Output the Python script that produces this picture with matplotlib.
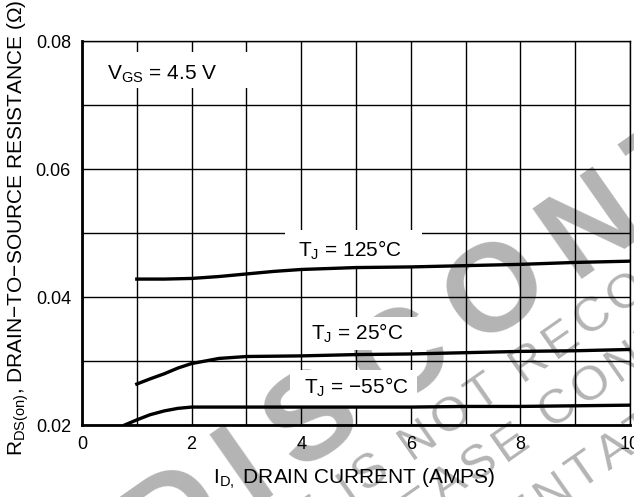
import numpy as np
import matplotlib
matplotlib.use("Agg")
import matplotlib.pyplot as plt
from matplotlib.patches import Rectangle
from matplotlib.font_manager import FontProperties
from matplotlib.textpath import TextToPath

plt.rcParams['font.family'] = ['Liberation Sans', 'DejaVu Sans']
plt.rcParams['mathtext.fontset'] = 'custom'
plt.rcParams['mathtext.rm'] = 'Liberation Sans'

# drain current (A) and on-resistance (ohm)
id_125 = [1.0, 1.5, 2.0, 2.5, 3.0, 3.5, 4.0, 5.0, 6.0, 7.0, 8.0, 9.0, 10.0]
r_125 = [0.0428, 0.0428, 0.0429, 0.0432, 0.0436, 0.0440, 0.0443, 0.0446, 0.0447, 0.0449, 0.0451, 0.0454, 0.0456]

id_25 = [1.0, 1.24, 1.5, 1.75, 2.0, 2.5, 3.0, 4.0, 5.0, 6.0, 7.0, 8.0, 9.0, 10.0]
r_25 = [0.0264, 0.0272, 0.0280, 0.0289, 0.0296, 0.0304, 0.0307, 0.0308, 0.0310, 0.0311, 0.0313, 0.0315, 0.0316, 0.0318]

id_m55 = [0.78, 1.0, 1.24, 1.5, 1.75, 2.0, 3.0, 4.0, 5.0, 6.0, 7.0, 8.0, 9.0, 10.0]
r_m55 = [0.0200, 0.0208, 0.0216, 0.0222, 0.0226, 0.0228, 0.0228, 0.0228, 0.0228, 0.0228, 0.0229, 0.0229, 0.0230, 0.0231]

x_ticks = [0, 2, 4, 6, 8, 10]
y_ticks = [0.02, 0.04, 0.06, 0.08]

W, H = 634, 497
fig = plt.figure(figsize=(W/100, H/100), dpi=100)
ax = fig.add_axes([82/W, 1-425/H, 548/W, 384/H])
ax.set_facecolor('none')

ax.set_xlim(0, 10)
ax.set_ylim(0.02, 0.08)
ax.set_xticks(x_ticks)
ax.set_xticklabels([str(v) for v in x_ticks])
ax.set_yticks(y_ticks)
ax.set_yticklabels(['%.2f' % v for v in y_ticks])
ax.set_xticks(np.arange(0, 11, 1), minor=True)
ax.set_yticks(np.arange(0.02, 0.081, 0.01), minor=True)
ax.tick_params(which='both', length=0, labelsize=13, pad=8)
ax.grid(True, which='both', color='black', linewidth=1.0)
ax.set_axisbelow(True)

for side in ['left', 'bottom']:
    ax.spines[side].set_linewidth(2.0)
for side in ['top', 'right']:
    ax.spines[side].set_linewidth(1.0)

ax.plot(id_125, r_125, color='black', linewidth=2.4, zorder=4)
ax.plot(id_25, r_25, color='black', linewidth=2.4, zorder=4)
ax.plot(id_m55, r_m55, color='black', linewidth=2.4, zorder=4)

# white boxes that break the grid behind each label
for bx in [(0.024, 0.878, 0.286, 0.093), (0.370, 0.409, 0.250, 0.099),
           (0.403, 0.195, 0.208, 0.086), (0.380, 0.047, 0.231, 0.096)]:
    ax.add_patch(Rectangle(bx[:2], bx[2], bx[3], transform=ax.transAxes,
                           facecolor='white', edgecolor='none', zorder=2))

ax.text(4.89, 0.0473, r'T$_\mathregular{J}$ = 125°C', fontsize=15, ha='center', va='center', zorder=3)
ax.text(5.02, 0.0344, r'T$_\mathregular{J}$ = 25°C', fontsize=15, ha='center', va='center', zorder=3)
ax.text(5.0, 0.0259, r'T$_\mathregular{J}$ = −55°C', fontsize=15, ha='center', va='center', zorder=3)
ax.text(0.46, 0.0748, r'V$_\mathregular{GS}$ = 4.5 V', fontsize=15, ha='left', va='center', zorder=3)

ax.set_xlabel(r'I$_\mathregular{D,}$ DRAIN CURRENT (AMPS)', fontsize=15)
ax.set_ylabel(r'R$_\mathregular{DS(on)}$, DRAIN−TO−SOURCE RESISTANCE (Ω)', fontsize=15)
ax.xaxis.set_label_coords(0.496, -0.107)
ax.yaxis.set_label_coords(-0.093, 0.513)


# gray "discontinued" stamp behind the chart, drawn letter by letter so the
# spacing can be opened up like the original
ttp = TextToPath()
wm = '#b4b4b4'


def stamp(text, idx, cx, cy, size, weight, track, angle=35):
    prop = FontProperties(family='Liberation Sans', size=size, weight=weight)
    widths = []
    for ch in text:
        w, h, d = ttp.get_text_width_height_descent(ch, prop, ismath=False)
        widths.append(w * 100 / 72)
    a = np.radians(angle)
    dx, dy = np.cos(a), -np.sin(a)
    ux, uy = -np.sin(a), -np.cos(a)
    cap = 0.716 * size * 100 / 72
    off = sum(widths[:idx]) + track * idx + widths[idx] / 2
    x0 = cx - off * dx - cap / 2 * ux
    y0 = cy - off * dy - cap / 2 * uy
    pos = 0.0
    for ch, w in zip(text, widths):
        if ch != ' ':
            px, py = x0 + pos * dx, y0 + pos * dy
            fig.text(px / W, 1 - py / H, ch, fontproperties=prop, color=wm,
                     rotation=angle, rotation_mode='anchor', ha='left', va='baseline', zorder=-1)
        pos += w + track


stamp('DISCONTINUED', 4, 490, 283, 90, 'bold', 22)
stamp('THIS DEVICE IS NOT RECOMMENDED FOR NEW DESIGN.', 21, 590, 313, 35, 'normal', 5)
stamp('PLEASE CONTACT YOUR ON SEMICONDUCTOR', 5, 508, 438, 35, 'normal', 5)
stamp('REPRESENTATIVE FOR INFORMATION', 9, 612, 447, 35, 'normal', 5)

fig.savefig('out.png', dpi=100)
